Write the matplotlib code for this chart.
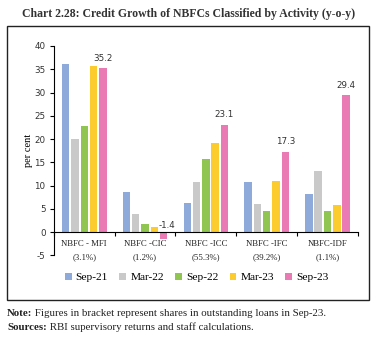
import matplotlib
matplotlib.use("Agg")
import matplotlib.pyplot as plt
from matplotlib.patches import Rectangle
import numpy as np

categories = ["NBFC - MFI\n(3.1%)", "NBFC -CIC\n(1.2%)", "NBFC -ICC\n(55.3%)",
              "NBFC -IFC\n(39.2%)", "NBFC-IDF\n(1.1%)"]
series = ["Sep-21", "Mar-22", "Sep-22", "Mar-23", "Sep-23"]
sep21 = [36.2, 8.6, 6.3, 10.8, 8.1]
mar22 = [20.1, 3.8, 10.8, 6.1, 13.2]
sep22 = [22.9, 1.8, 15.8, 4.6, 4.5]
mar23 = [35.6, 1.2, 19.2, 10.9, 5.8]
sep23 = [35.2, -1.4, 23.1, 17.3, 29.4]
colors = ["#8eaadb", "#c9c9c9", "#8fc550", "#fccb2d", "#ea7ab3"]

serif = "Liberation Serif"
plt.rcParams["axes.unicode_minus"] = False

fig = plt.figure(figsize=(3.74, 3.42), dpi=100)
ax = fig.add_axes([0.144, 0.2532, 0.813, 0.6123])

x = np.arange(len(categories))
pitch = 0.153
w = 0.122
vals = [sep21, mar22, sep22, mar23, sep23]
for i, (v, c, s) in enumerate(zip(vals, colors, series)):
    ax.bar(x + (i - 2) * pitch, v, width=w, color=c, label=s)

# labels on the Sep-23 bars
for xi, v in zip(x, sep23):
    xb = xi + 2 * pitch
    if v < 0:
        ax.text(xb + 0.06, 0.5, f"{v}", ha="center", va="bottom", fontsize=6.3, color="#333333")
    else:
        ax.annotate(f"{v}", (xb, v), xytext=(0, 4), textcoords="offset points",
                    ha="center", va="bottom", fontsize=6.3, color="#333333")

ax.set_xlim(-0.5, 4.5)
ax.set_ylim(-5, 40)
ax.set_yticks(range(-5, 41, 5))
ax.tick_params(axis="y", labelsize=6.3, length=3, width=0.8, pad=3, labelcolor="#333333")

ax.spines["bottom"].set_position(("data", 0))
ax.spines["top"].set_visible(False)
ax.spines["right"].set_visible(False)
ax.set_xticks(np.arange(-0.5, 4.6, 1))
ax.set_xticklabels([])
ax.tick_params(axis="x", which="major", length=3, width=0.8, direction="out")
ax.set_xticks(x, minor=True)
ax.set_xticklabels(categories, minor=True, fontsize=6.3, family=serif, linespacing=1.75,
                   color="#222222")
ax.tick_params(axis="x", which="minor", length=0, pad=6)

ax.set_ylabel("per cent", family=serif, fontsize=7.5, labelpad=1)

ax.legend(loc="center", bbox_to_anchor=(0.47, -0.105), ncol=5, frameon=False,
          prop={"family": serif, "size": 8.2}, handlelength=0.6, handleheight=0.6,
          handletextpad=0.35, columnspacing=1.0)

fig.patches.append(Rectangle((7 / 374, 1 - 300 / 342), 362 / 374, 274 / 342,
                             transform=fig.transFigure, fill=False, lw=1.0, ec="#222222"))

fig.text(0.505, 1 - 14 / 342, "Chart 2.28: Credit Growth of NBFCs Classified by Activity (y-o-y)",
         ha="center", va="center", family=serif, fontweight="bold", fontsize=8.5, color="#333333")

t1 = fig.text(7 / 374, 1 - 313 / 342, "Note:", ha="left", va="center", family=serif,
              fontweight="bold", fontsize=7.8, color="#222222")
ax.annotate(" Figures in bracket represent shares in outstanding loans in Sep-23.",
            xy=(1, 0), xycoords=t1, ha="left", va="bottom", family=serif,
            fontsize=7.8, color="#222222", annotation_clip=False)
t2 = fig.text(7 / 374, 1 - 327 / 342, "Sources:", ha="left", va="center", family=serif,
              fontweight="bold", fontsize=7.8, color="#222222")
ax.annotate(" RBI supervisory returns and staff calculations.", xy=(1, 0), xycoords=t2,
            ha="left", va="bottom", family=serif, fontsize=7.8, color="#222222",
            annotation_clip=False)

fig.savefig("out.png", dpi=100)
